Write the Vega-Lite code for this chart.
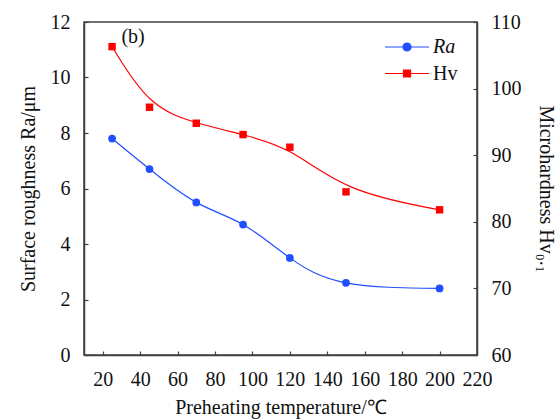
{
  "$schema": "https://vega.github.io/schema/vega-lite/v6.json",
  "width": 393,
  "height": 333,
  "autosize": {"type": "none"},
  "padding": {"left": 84, "top": 22, "right": 82, "bottom": 64},
  "background": "white",
  "datasets": {
    "ra": [
      {"temp": 25, "value": 7.8, "series": "Ra"},
      {"temp": 45, "value": 6.7, "series": "Ra"},
      {"temp": 70, "value": 5.5, "series": "Ra"},
      {"temp": 95, "value": 4.7, "series": "Ra"},
      {"temp": 120, "value": 3.5, "series": "Ra"},
      {"temp": 150, "value": 2.6, "series": "Ra"},
      {"temp": 200, "value": 2.4, "series": "Ra"}
    ],
    "hv": [
      {"temp": 25, "value": 106.3, "series": "Hv"},
      {"temp": 45, "value": 97.2, "series": "Hv"},
      {"temp": 70, "value": 94.8, "series": "Hv"},
      {"temp": 95, "value": 93.1, "series": "Hv"},
      {"temp": 120, "value": 91.2, "series": "Hv"},
      {"temp": 150, "value": 84.5, "series": "Hv"},
      {"temp": 200, "value": 81.8, "series": "Hv"}
    ],
    "note": [
      {"label": "(b)", "temp": 30, "value": 11.45}
    ]
  },
  "config": {
    "font": "Liberation Serif",
    "view": {"stroke": "#404040", "strokeWidth": 1.5},
    "axis": {
      "grid": false,
      "domainColor": "#404040",
      "domainWidth": 1.5,
      "tickColor": "#404040",
      "tickSize": -4,
      "tickWidth": 1.2,
      "labelFont": "Liberation Serif",
      "labelFontSize": 20,
      "labelColor": "#111",
      "titleFont": "Liberation Serif",
      "titleFontSize": 20,
      "titleFontWeight": "normal",
      "titleColor": "#111"
    }
  },
  "encoding": {
    "x": {
      "field": "temp",
      "type": "quantitative",
      "scale": {"domain": [10, 220], "nice": false, "zero": false},
      "axis": {
        "values": [20, 40, 60, 80, 100, 120, 140, 160, 180, 200, 220],
        "title": "Preheating temperature/℃",
        "labelPadding": 18,
        "titlePadding": 8,
        "labelFlush": false,
        "labelOverlap": false
      }
    }
  },
  "layer": [
    {
      "data": {"name": "ra"},
      "encoding": {
        "y": {
          "field": "value",
          "type": "quantitative",
          "scale": {"domain": [0, 12], "nice": false},
          "axis": {
            "orient": "left",
            "values": [0, 2, 4, 6, 8, 10, 12],
            "title": "Surface roughness Ra/μm",
            "labelPadding": 18,
            "titlePadding": 12,
            "labelFlush": false
          }
        },
        "color": {
          "field": "series",
          "type": "nominal",
          "scale": {"domain": ["Ra", "Hv"], "range": ["#1f4fff", "#ff0000"]},
          "legend": {
            "orient": "none",
            "legendX": 313,
            "legendY": 15,
            "title": null,
            "padding": 0,
            "symbolSize": 100,
            "symbolStrokeWidth": 1.2,
            "labelFontSize": 20,
            "labelColor": "#111",
            "labelOffset": 16,
            "rowPadding": 6.5,
            "encode": {
              "symbols": {
                "update": {
                  "shape": {"signal": "datum.value === 'Ra' ? 'M-4.4,0H4.4M-0.8,0A0.8,0.8,0,1,1,0.8,0A0.8,0.8,0,1,1,-0.8,0Z' : 'M-4.4,0H4.4M-0.7,-0.7H0.7V0.7H-0.7Z'"},
                  "fill": {"signal": "datum.value === 'Ra' ? '#1f4fff' : '#ff0000'"},
                  "stroke": {"signal": "datum.value === 'Ra' ? '#1f4fff' : '#ff0000'"},
                  "opacity": {"value": 1},
                  "fillOpacity": {"value": 1}
                }
              },
              "labels": {
                "update": {
                  "fontStyle": {"signal": "datum.value === 'Ra' ? 'italic' : 'normal'"},
                  "font": {"value": "Liberation Serif"},
                  "fontWeight": {"value": "normal"}
                }
              }
            }
          }
        }
      },
      "layer": [
        {"mark": {"type": "line", "interpolate": "natural", "strokeWidth": 1.2}},
        {"mark": {"type": "point", "shape": "circle", "filled": true, "size": 60, "opacity": 1}},
        {
          "data": {"name": "note"},
          "mark": {"type": "text", "align": "left", "baseline": "middle", "fontSize": 20, "font": "Liberation Serif", "fontWeight": "normal", "color": "#111"},
          "encoding": {
            "text": {"field": "label"},
            "color": {"value": "#111"}
          }
        }
      ]
    },
    {
      "data": {"name": "hv"},
      "encoding": {
        "y": {
          "field": "value",
          "type": "quantitative",
          "scale": {"domain": [60, 110], "nice": false, "zero": false},
          "axis": {
            "orient": "right",
            "values": [60, 70, 80, 90, 100, 110],
            "title": "Microhardness Hv₀.₁",
            "titleAngle": 90,
            "labelPadding": 18,
            "titlePadding": 14,
            "labelFlush": false
          }
        },
        "color": {"field": "series", "type": "nominal"}
      },
      "layer": [
        {"mark": {"type": "line", "interpolate": "basis", "strokeWidth": 1.2}},
        {"mark": {"type": "point", "shape": "square", "filled": true, "size": 55, "opacity": 1}}
      ]
    }
  ],
  "resolve": {"scale": {"y": "independent"}}
}
